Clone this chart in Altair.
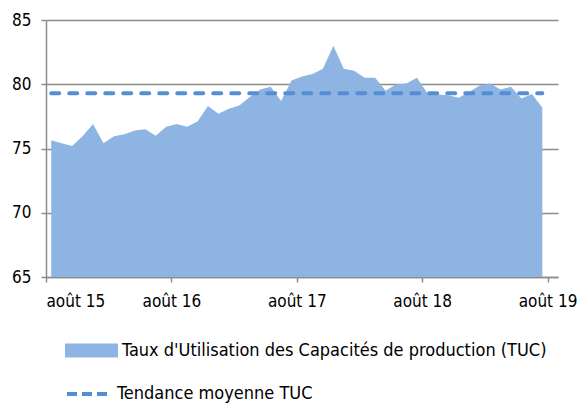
import altair as alt
import pandas as pd

# Monthly capacity utilisation rate, Aug 2015 .. Jul 2019
tuc_values = [
    75.65, 75.4, 75.2, 75.95, 76.9, 75.4, 75.95, 76.1, 76.4, 76.5, 76.0, 76.7,
    76.9, 76.7, 77.1, 78.3, 77.7, 78.1, 78.35, 79.0, 79.6, 79.8, 78.7, 80.3,
    80.6, 80.8, 81.2, 83.0, 81.2, 81.05, 80.5, 80.5, 79.5, 80.0, 80.05, 80.5,
    79.3, 79.2, 79.15, 78.95, 79.4, 79.9, 80.05, 79.6, 79.8, 78.9, 79.25, 78.2,
]
trend_value = 79.3
tick_months = [0, 12, 24, 36, 48]
tick_labels = ["août 15", "août 16", "août 17", "août 18", "août 19"]
series_area = "Taux d'Utilisation des Capacités de production (TUC)"
series_line = "Tendance moyenne TUC"

area_color = "#8EB4E3"
line_color = "#558ED5"
axis_color = "#8C8C8C"
font = "DejaVu Sans Condensed, Roboto"

df = pd.DataFrame({
    "m": [i + 0.5 for i in range(len(tuc_values))],
    "v": tuc_values,
    "s": series_area,
})
trend_df = pd.DataFrame({
    "m": [0.5], "m2": [len(tuc_values) - 0.5], "v": [trend_value], "s": [series_line]
})

label_expr = "{" + ",".join(f"'{m}':'{l}'" for m, l in zip(tick_months, tick_labels)) + "}[datum.value]"

x_scale = alt.Scale(domain=[0, 49], nice=False, zero=False)
y_scale = alt.Scale(domain=[65, 85], nice=False, zero=False)

x_axis = alt.Axis(values=tick_months, labelExpr=label_expr, title=None, grid=False,
                  domainColor=axis_color, domainWidth=1.5, tickColor=axis_color,
                  tickWidth=1.5, tickSize=5, labelPadding=11, labelFontSize=17,
                  labelFont=font, labelColor="#000000")
y_axis = alt.Axis(values=[65, 70, 75, 80, 85], title=None, grid=True, gridColor=axis_color,
                  gridWidth=1.5, domainColor=axis_color, domainWidth=1.5,
                  tickColor=axis_color, tickWidth=1.5, tickSize=5, labelPadding=10,
                  labelFontSize=17, labelFont=font, labelColor="#000000",
                  minExtent=30, maxExtent=30)

rect_path = "M-1,-0.264H1V0.264H-1Z"

area = alt.Chart(df).mark_area(opacity=1).encode(
    x=alt.X("m:Q", scale=x_scale, axis=x_axis),
    y=alt.Y("v:Q", scale=y_scale, axis=y_axis),
    y2=alt.datum(65),
    fill=alt.Fill("s:N", scale=alt.Scale(domain=[series_area], range=[area_color]),
                  legend=alt.Legend(title=None, orient="none", legendX=19, legendY=304,
                                    symbolType=rect_path, symbolSize=2809,
                                    symbolStrokeWidth=0, symbolOpacity=1,
                                    labelFont=font, labelFontSize=18, labelOffset=4,
                                    labelColor="#000000", padding=0, labelLimit=600)),
)

trend = alt.Chart(trend_df).mark_rule(strokeWidth=4, strokeDash=[8, 10], strokeCap="round").encode(
    x=alt.X("m:Q", scale=x_scale),
    x2="m2:Q",
    y=alt.Y("v:Q", scale=y_scale),
    stroke=alt.Stroke("s:N", scale=alt.Scale(domain=[series_line], range=[line_color]),
                      legend=alt.Legend(title=None, orient="none", legendX=19, legendY=352,
                                        symbolType="stroke", symbolSize=1600,
                                        symbolStrokeWidth=4, symbolDash=[10, 5],
                                        labelFont=font, labelFontSize=18, labelOffset=8,
                                        labelColor="#000000", padding=0, labelLimit=600)),
)

chart = alt.layer(area, trend).properties(
    width=512, height=257,
    padding={"left": 3, "top": 3, "right": 0, "bottom": 0},
).configure_view(stroke=None).configure_axis(labelFont=font)

chart.save("out.html", embed_options={"renderer": "svg", "actions": False})
